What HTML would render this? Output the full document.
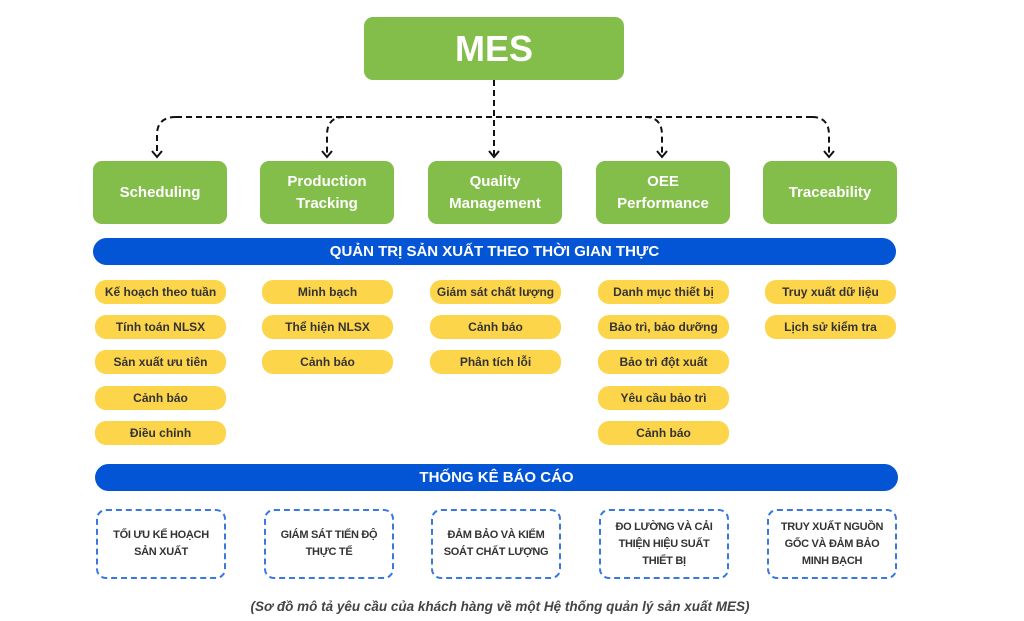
<!DOCTYPE html>
<html><head><meta charset="utf-8"><style>
body{margin:0;width:1024px;height:621px;background:#fff;font-family:"Liberation Sans",sans-serif;position:relative;overflow:hidden}
.a{position:absolute;box-sizing:border-box;display:flex;align-items:center;justify-content:center;text-align:center}
.g{background:#83bd4a;color:#fff;font-weight:bold;font-size:15px;border-radius:9px;line-height:22px;top:161px;height:63px;width:134px}
.b{background:#0455d6;color:#fff;font-weight:bold;font-size:15px;border-radius:14px;height:27px}
.y{background:#fdd54a;color:#333;font-weight:bold;font-size:12px;border-radius:11px;height:24px;width:131px}
.d{border:2px dashed #3a78e0;border-radius:10px;color:#333;font-weight:bold;font-size:11px;letter-spacing:-0.3px;line-height:17px;top:509px;height:70px;width:130px;padding:0 3px}
</style></head><body>
<div class="a" style="left:364px;top:17px;width:260px;height:63px;background:#83bd4a;color:#fff;font-weight:bold;font-size:36px;border-radius:9px">MES</div>
<svg style="position:absolute;left:0;top:0" width="1024" height="621">
<g fill="none" stroke="#111" stroke-width="2" stroke-dasharray="6,4">
<path d="M494 80V155"/>
<path d="M176 117H812"/>
<path d="M176 117Q157 117 157 135V155"/>
<path d="M344 117Q327 117 327 135V155"/>
<path d="M645 117Q662 117 662 135V155"/>
<path d="M812 117Q829 117 829 135V155"/>
</g>
<g fill="none" stroke="#111" stroke-width="2">
<path d="M152 151l5 6 5-6M322 151l5 6 5-6M489 151l5 6 5-6M657 151l5 6 5-6M824 151l5 6 5-6"/>
</g>
</svg>
<div class="a g" style="left:93px">Scheduling</div>
<div class="a g" style="left:260px">Production<br>Tracking</div>
<div class="a g" style="left:428px">Quality<br>Management</div>
<div class="a g" style="left:596px">OEE<br>Performance</div>
<div class="a g" style="left:763px">Traceability</div>
<div class="a b" style="left:93px;top:238px;width:803px">QUẢN TRỊ SẢN XUẤT THEO THỜI GIAN THỰC</div>
<div class="a y" style="left:95px;top:280px">Kế hoạch theo tuần</div>
<div class="a y" style="left:95px;top:315px">Tính toán NLSX</div>
<div class="a y" style="left:95px;top:350px">Sản xuất ưu tiên</div>
<div class="a y" style="left:95px;top:386px">Cảnh báo</div>
<div class="a y" style="left:95px;top:421px">Điều chỉnh</div>
<div class="a y" style="left:262px;top:280px">Minh bạch</div>
<div class="a y" style="left:262px;top:315px">Thể hiện NLSX</div>
<div class="a y" style="left:262px;top:350px">Cảnh báo</div>
<div class="a y" style="left:430px;top:280px">Giám sát chất lượng</div>
<div class="a y" style="left:430px;top:315px">Cảnh báo</div>
<div class="a y" style="left:430px;top:350px">Phân tích lỗi</div>
<div class="a y" style="left:598px;top:280px">Danh mục thiết bị</div>
<div class="a y" style="left:598px;top:315px">Bảo trì, bảo dưỡng</div>
<div class="a y" style="left:598px;top:350px">Bảo trì đột xuất</div>
<div class="a y" style="left:598px;top:386px">Yêu cầu bảo trì</div>
<div class="a y" style="left:598px;top:421px">Cảnh báo</div>
<div class="a y" style="left:765px;top:280px">Truy xuất dữ liệu</div>
<div class="a y" style="left:765px;top:315px">Lịch sử kiểm tra</div>
<div class="a b" style="left:95px;top:464px;width:803px">THỐNG KÊ BÁO CÁO</div>
<div class="a d" style="left:96px">TỐI ƯU KẾ HOẠCH<br>SẢN XUẤT</div>
<div class="a d" style="left:264px">GIÁM SÁT TIẾN ĐỘ<br>THỰC TẾ</div>
<div class="a d" style="left:431px">ĐẢM BẢO VÀ KIỂM<br>SOÁT CHẤT LƯỢNG</div>
<div class="a d" style="left:599px">ĐO LƯỜNG VÀ CẢI<br>THIỆN HIỆU SUẤT<br>THIẾT BỊ</div>
<div class="a d" style="left:767px">TRUY XUẤT NGUỒN<br>GỐC VÀ ĐẢM BẢO<br>MINH BẠCH</div>
<div class="a" style="left:0;width:1000px;top:596px;height:20px;font-size:13.5px;font-style:italic;font-weight:bold;color:#444">(Sơ đồ mô tả yêu cầu của khách hàng về một Hệ thống quản lý sản xuất MES)</div>
</body></html>
